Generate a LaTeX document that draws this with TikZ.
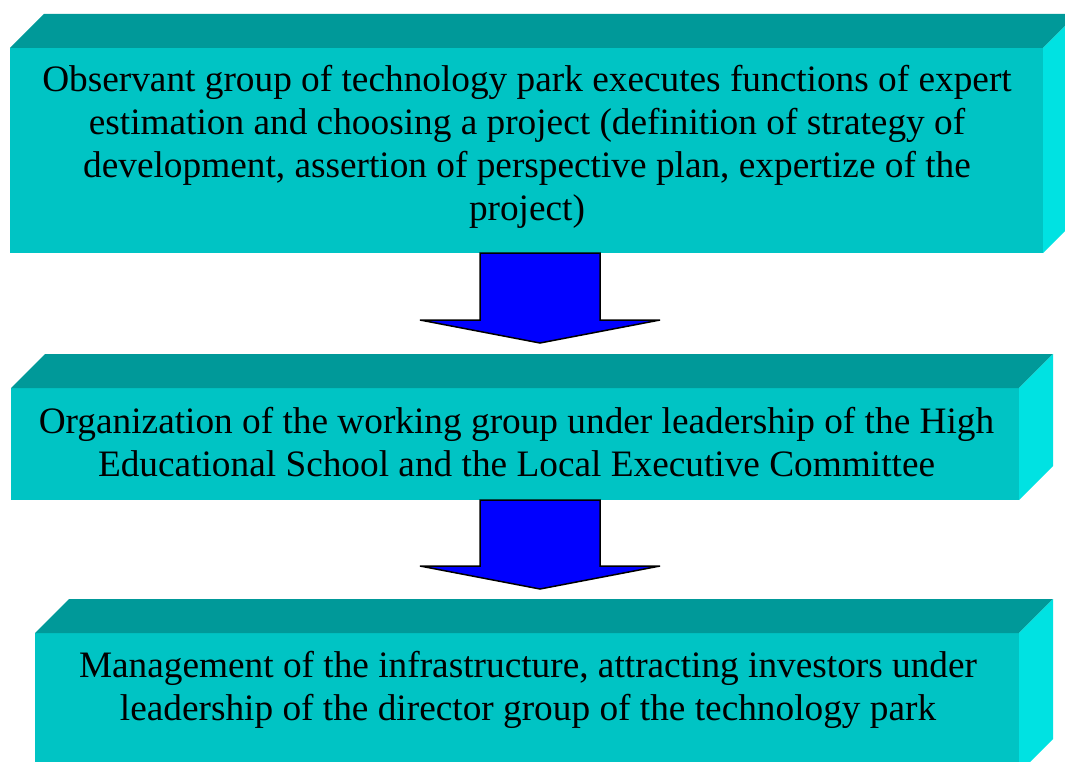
\documentclass[tikz,border=0pt]{standalone}
\usepackage{fontspec}
\setmainfont{Liberation Serif}
\usetikzlibrary{calc}
\definecolor{frontc}{RGB}{0,196,196}
\definecolor{topc}{RGB}{0,153,153}
\definecolor{sidec}{RGB}{0,226,226}
\definecolor{arrowc}{RGB}{0,0,255}
\tikzset{
  front/.style={fill=frontc, inner sep=0pt, outer sep=0pt, align=center,
    font=\fontsize{37.3}{43}\selectfont},
  topface/.style={fill=topc},
  sideface/.style={fill=sidec},
  blockarrow/.style={fill=arrowc, draw=black, line width=1.5pt, line join=miter}
}
\newcommand{\threeD}[2]{% node name, depth
  \fill[topc] (#1.north west) -- ++(#2,-#2) -- ($(#1.north east)+(#2,-#2)$) -- (#1.north east) -- cycle;
  \fill[sidec] (#1.north east) -- ++(#2,-#2) -- ($(#1.south east)+(#2,-#2)$) -- (#1.south east) -- cycle;
}
\newcommand{\downarrowblock}[2]{% top coordinate name, tip coordinate name
  \draw[blockarrow] ($(#1)+(-60,0)$) -- ($(#1)+(60,0)$) -- ($(#2)+(60,-23)$) -- ($(#2)+(120,-23)$)
    -- (#2) -- ($(#2)+(-120,-23)$) -- ($(#2)+(-60,-23)$) -- cycle;
}
\begin{document}
\begin{tikzpicture}[x=1pt,y=-1pt]
\useasboundingbox (0,0) rectangle (1065,762);
\clip (0,0) rectangle (1065,762);

\node[front, minimum width=1033pt, minimum height=205pt] (b1) at (526.5,150.5) {};
\node[front, minimum width=1008pt, minimum height=112pt] (b2) at (515,444) {};
\node[front, minimum width=984pt, minimum height=140pt] (b3) at (527,703) {};
\threeD{b1}{34}
\threeD{b2}{34}
\threeD{b3}{34}

\node[front, fill=none] (t1) at (527,147) {Observant group of technology park executes functions of expert\\estimation and choosing a project (definition of strategy of\\development, assertion of perspective plan, expertize of the\\project)};
\node[front, fill=none] (t2) at (516.5,442) {Organization of the working group under leadership of the High\\Educational School and the Local Executive Committee};
\node[front, fill=none] (t3) at (528,690) {Management of the infrastructure, attracting investors under\\leadership of the director group of the technology park};

\coordinate (a1s) at (540,253);
\coordinate (a1t) at (540,343);
\coordinate (a2s) at (540,500);
\coordinate (a2t) at (540,589);
\downarrowblock{a1s}{a1t}
\downarrowblock{a2s}{a2t}
\end{tikzpicture}
\end{document}
